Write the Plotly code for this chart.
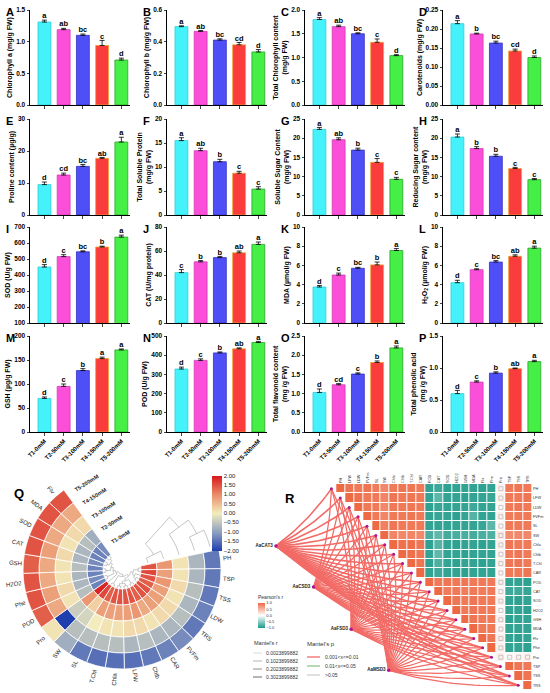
import numpy as np
import plotly.graph_objects as go

W, H = 550, 693
FONT = "Liberation Sans, Arial, sans-serif"

treatments = ["T1-0mM", "T2-50mM", "T3-100mM", "T4-150mM", "T5-200mM"]
bar_colors = ["#45f2fb", "#fb4fd9", "#4f4ff7", "#fb3c3c", "#45ef45"]
edge_colors = ["#2ccfd8", "#d23bb4", "#3232c4", "#f0a030", "#2aa52a"]

# ---- bar panels A-P : mean, error, letters ----
chla_mean = [1.31, 1.19, 1.10, 0.94, 0.71]
chla_err = [0.03, 0.02, 0.02, 0.08, 0.03]
chla_sig = ["a", "ab", "bc", "c", "d"]

chlb_mean = [0.495, 0.465, 0.41, 0.38, 0.335]
chlb_err = [0.005, 0.005, 0.008, 0.015, 0.015]
chlb_sig = ["a", "ab", "bc", "cd", "d"]

tchl_mean = [1.80, 1.65, 1.50, 1.32, 1.04]
tchl_err = [0.04, 0.03, 0.02, 0.07, 0.02]
tchl_sig = ["a", "ab", "bc", "c", "d"]

car_mean = [0.214, 0.187, 0.163, 0.142, 0.125]
car_err = [0.008, 0.002, 0.005, 0.005, 0.004]
car_sig = ["a", "b", "bc", "cd", "d"]

pro_mean = [9.5, 12.5, 15.2, 17.7, 22.8]
pro_err = [0.8, 0.6, 0.6, 0.3, 1.5]
pro_sig = ["d", "cd", "bc", "ab", "a"]

tsp_mean = [15.5, 13.4, 11.1, 8.7, 5.4]
tsp_err = [0.6, 0.5, 0.5, 0.4, 0.5]
tsp_sig = ["a", "ab", "b", "c", "c"]

tss_mean = [22.3, 19.6, 16.9, 13.7, 9.3]
tss_err = [0.5, 0.5, 0.5, 1.0, 0.5]
tss_sig = ["a", "ab", "b", "c", "c"]

trs_mean = [20.3, 17.3, 15.3, 12.1, 9.2]
trs_err = [0.8, 0.5, 0.5, 0.3, 0.3]
trs_sig = ["a", "b", "b", "c", "c"]

sod_mean = [450, 515, 545, 575, 637]
sod_err = [15, 12, 6, 5, 12]
sod_sig = ["d", "c", "bc", "b", "a"]

cat_mean = [42, 51, 54.5, 58.5, 65.5]
cat_err = [2.5, 1.0, 1.0, 1.5, 2.0]
cat_sig = ["c", "b", "b", "ab", "a"]

mda_mean = [3.75, 5.0, 5.7, 6.05, 7.55]
mda_err = [0.15, 0.2, 0.1, 0.3, 0.2]
mda_sig = ["d", "c", "bc", "b", "a"]

h2o2_mean = [4.2, 5.55, 6.35, 6.95, 7.8]
h2o2_err = [0.25, 0.1, 0.15, 0.15, 0.2]
h2o2_sig = ["d", "c", "bc", "ab", "a"]

gsh_mean = [70, 95, 128, 153, 171]
gsh_err = [3, 5, 4, 3, 2]
gsh_sig = ["d", "c", "b", "a", "a"]

pod_mean = [328, 373, 412, 433, 466]
pod_err = [10, 8, 5, 5, 6]
pod_sig = ["d", "c", "b", "ab", "a"]

flv_mean = [1.03, 1.23, 1.51, 1.81, 2.19]
flv_err = [0.09, 0.03, 0.03, 0.04, 0.05]
flv_sig = ["d", "cd", "c", "b", "a"]

phe_mean = [0.60, 0.78, 0.92, 0.99, 1.10]
phe_err = [0.05, 0.02, 0.02, 0.01, 0.02]
phe_sig = ["d", "c", "b", "ab", "a"]

# ---- Q: circular heatmap (z-scores), rings T1 (inner) .. T5 (outer) ----
q_vars = ["PH", "TSP", "TSS", "LDW", "TRS", "FVFm", "CAR", "Chlb", "LFW", "Chla", "T.Chl",
          "SL", "SW", "Pro", "POD", "Phe", "H2O2", "GSH", "CAT", "SOD", "MDA", "Flv"]
q_T1 = [1.5, 1.6, 1.5, 1.4, 1.5, 1.5, 1.4, 1.5, 1.5, 1.5, 1.5, 1.4, 1.6, 1.9,
        -1.3, -1.2, -1.3, -1.3, -1.2, -1.3, -1.3, -1.2]
q_T2 = [0.9, 0.8, 0.9, 0.8, 0.8, 0.8, 0.7, 0.9, 0.8, 0.8, 0.8, 0.8, 0.3, 0.9,
        -0.6, -0.7, -0.7, -0.6, -0.7, -0.7, -0.6, -0.8]
q_T3 = [0.1, 0.1, 0.2, 0.1, 0.2, 0.2, 0.1, 0.2, 0.2, 0.1, 0.1, 0.0, -0.3, -0.4,
        0.1, 0.2, 0.1, 0.1, 0.2, 0.1, 0.2, 0.2]
q_T4 = [-0.7, -0.7, -0.6, -0.7, -0.6, -0.7, -0.7, -0.6, -0.7, -0.6, -0.6, -0.6, -0.6, -2.0,
        0.7, 0.8, 0.7, 0.7, 0.8, 0.7, 0.7, 0.7]
q_T5 = [-1.4, -1.4, -1.4, -1.3, -1.4, -1.2, -1.3, -1.4, -1.5, -1.5, -1.5, -1.4, -0.8, 0.1,
        1.4, 1.5, 1.5, 1.4, 1.5, 1.5, 1.5, 1.5]
q_ticks = [-2, -1.5, -1, -0.5, 0, 0.5, 1, 1.5, 2]
q_scale = [[0, "#1f3fae"], [0.25, "#8d9fbf"], [0.5, "#f3ecbd"], [0.75, "#ea8d68"], [1, "#d7191c"]]

# dendrograms (index trees)
groupA = ((((0, 1), (2, (3, 4))), ((5, 6), ((7, 8), (9, 10)))), (11, 12))
groupB = (13, ((14, 15), ((16, 17), ((18, 19), (20, 21)))))
var_tree = (groupA, groupB)
trt_tree = ((0, 1), (2, (3, 4)))

# ---- R: Pearson correlation (upper triangle rows) + Mantel links ----
r_vars = ["PH", "LFW", "LDW", "FVFm", "SL", "SW", "Chla", "Chlb", "T.Chl", "CAR", "POD", "CAT",
          "SOD", "H2O2", "GSH", "MDA", "Flv", "Phe", "Pro", "TSP", "TSS", "TRS"]
r_rows = [
    [1, .92, .9, .93, .88, .8, .9, .92, .91, .9, -.9, -.85, -.92, -.9, -.91, -.9, -.92, -.9, .08, .9, .92, .9],
    [1, .95, .9, .9, .82, .92, .9, .92, .9, -.9, -.72, -.9, -.9, -.92, -.9, -.9, -.88, .1, .9, .9, .92],
    [1, .9, .9, .8, .9, .9, .91, .9, -.92, -.88, -.9, -.9, -.9, -.85, -.9, -.9, .05, .9, .92, .9],
    [1, .9, .82, .9, .9, .92, .9, -.9, -.88, -.9, -.92, -.9, -.75, -.9, -.9, .1, .88, .9, .9],
    [1, .85, .92, .9, .9, .9, -.9, -.9, -.9, -.9, -.9, -.9, -.88, -.72, .06, .9, .9, .9],
    [1, .82, .8, .82, .8, -.8, -.7, -.82, -.8, -.8, -.82, -.8, -.78, .15, .78, .8, .8],
    [1, .95, .97, .92, -.92, -.75, -.9, -.92, -.9, -.9, -.92, -.9, .1, .92, .9, .9],
    [1, .96, .92, -.9, -.7, -.9, -.9, -.92, -.9, -.9, -.9, .08, .9, .92, .9],
    [1, .93, -.92, -.78, -.9, -.92, -.9, -.9, -.92, -.9, .1, .92, .92, .9],
    [1, -.9, -.85, -.9, -.9, -.92, -.9, -.9, -.9, .06, .9, .9, .92],
    [1, .9, .92, .9, .92, .9, .9, .9, .1, -.9, -.9, -.92],
    [1, .88, .9, .88, .9, .88, .9, .08, -.85, -.85, -.88],
    [1, .92, .9, .92, .9, .9, .1, -.9, -.92, -.9],
    [1, .9, .92, .9, .9, .05, -.9, -.9, -.92],
    [1, .92, .9, .9, .1, -.92, -.9, -.9],
    [1, .9, .9, .08, -.9, -.9, -.9],
    [1, .92, .12, -.9, -.92, -.9],
    [1, .1, -.9, -.9, -.92],
    [.1, .05, .08, .1],
    [1, .92, .9],
    [1, .93],
    [1],
]
pearson_scale = [[0, "#1c9a88"], [0.5, "#ffffff"], [1, "#ee6a45"]]
genes = ["AaCAT3", "AaCSD3", "AaFSD3", "AaMSD3"]
mantel_r = [0.22, 0.15, 0.15, 0.15]
mantel_r_legend = ["0.0023899882", "0.1023899882", "0.2023899882", "0.3023899882"]
mantel_r_steps = [0.0, 0.1, 0.2, 0.3]
mantel_p_legend = ["0.001<x<=0.01", "0.01<x<=0.05", ">0.05"]
mantel_p_colors = ["#f26b66", "#8cc68c", "#cfcfcf"]


def px2x(x):
    return x / W


def px2y(y):
    return 1 - y / H


def r_width(r):
    return 0.5 + 5 * r


fig = go.Figure()
annotations = []
shapes = []

panels = [
    ("A", chla_mean, chla_err, chla_sig, "Chlorophyll a (mg/g FW)", [0, 1.5], 0.5, ".1f"),
    ("B", chlb_mean, chlb_err, chlb_sig, "Chlorophyll b (mg/g FW)", [0, 0.6], 0.2, ".1f"),
    ("C", tchl_mean, tchl_err, tchl_sig, "Total Chlorophyll content<br>(mg/g FW)", [0, 2.0], 0.5, ".1f"),
    ("D", car_mean, car_err, car_sig, "Carotenoids (mg/g FW)", [0, 0.25], 0.05, ".2f"),
    ("E", pro_mean, pro_err, pro_sig, "Proline content (µg/g)", [0, 30], 10, "d"),
    ("F", tsp_mean, tsp_err, tsp_sig, "Total Soluble Protein<br>(mg/g FW)", [0, 20], 5, "d"),
    ("G", tss_mean, tss_err, tss_sig, "Soluble Sugar Content<br>(mg/g FW)", [0, 25], 5, "d"),
    ("H", trs_mean, trs_err, trs_sig, "Reducing Sugar content<br>(mg/g FW)", [0, 25], 5, "d"),
    ("I", sod_mean, sod_err, sod_sig, "SOD (U/g FW)", [100, 700], 100, "d"),
    ("J", cat_mean, cat_err, cat_sig, "CAT (U/mg protein)", [0, 80], 20, "d"),
    ("K", mda_mean, mda_err, mda_sig, "MDA (µmol/g FW)", [0, 10], 2, "d"),
    ("L", h2o2_mean, h2o2_err, h2o2_sig, "H<sub>2</sub>O<sub>2</sub> (µmol/g FW)", [0, 10], 2, "d"),
    ("M", gsh_mean, gsh_err, gsh_sig, "GSH (µg/g FW)", [0, 200], 50, "d"),
    ("N", pod_mean, pod_err, pod_sig, "POD (U/g FW)", [0, 500], 100, "d"),
    ("O", flv_mean, flv_err, flv_sig, "Total flavonoid content<br>(mg /g FW)", [0, 2.5], 0.5, ".1f"),
    ("P", phe_mean, phe_err, phe_sig, "Total phenolic acid<br>(mg /g FW)", [0, 1.5], 0.5, ".1f"),
]
col_left = [30, 167, 305, 443]
row_span = [(10, 105), (119, 215), (227, 323), (336, 432)]
PW = 100

for i, (tag, mean, err, sig, title, yr, dt, fmt) in enumerate(panels):
    row, col = divmod(i, 4)
    n = i + 1
    xa, ya = "x%d" % n, "y%d" % n
    top, bot = row_span[row]
    left = col_left[col]
    fig.add_trace(go.Bar(
        x=treatments, y=mean, xaxis=xa, yaxis=ya, showlegend=False,
        marker=dict(color=bar_colors, line=dict(color=edge_colors, width=0.8)),
        error_y=dict(type="data", array=err, arrayminus=[0] * 5, symmetric=False,
                     color="black", thickness=0.8, width=2.5)))
    fig.add_trace(go.Scatter(
        x=treatments, y=[m + e for m, e in zip(mean, err)], xaxis=xa, yaxis=ya,
        mode="text", text=sig, textposition="top center", showlegend=False, cliponaxis=False,
        textfont=dict(size=7.5, color="black", family=FONT, weight="bold")))
    fig.update_layout(**{
        "xaxis%d" % n: dict(domain=[px2x(left), px2x(left + PW)], anchor=ya,
                            range=[-0.75, 4.45], showline=True, linecolor="black", linewidth=1,
                            ticks="outside", ticklen=2.5, tickwidth=0.8,
                            showticklabels=(row == 3), tickangle=-45,
                            tickfont=dict(size=6, family=FONT, weight="bold", color="black")),
        "yaxis%d" % n: dict(domain=[px2y(bot), px2y(top)], anchor=xa, range=yr, dtick=dt,
                            tick0=yr[0], tickformat=fmt, showline=True, linecolor="black",
                            linewidth=1, ticks="outside", ticklen=2.5, tickwidth=0.8,
                            showgrid=False, zeroline=False,
                            tickfont=dict(size=6.5, family=FONT, weight="bold", color="black"),
                            title=dict(text=title, standoff=2,
                                       font=dict(size=7, family=FONT, weight="bold", color="black"))),
    })
    annotations.append(dict(text=tag, x=px2x(left - 26), y=px2y(top - 6), xref="paper",
                            yref="paper", xanchor="left", yanchor="top", showarrow=False,
                            font=dict(size=11, family=FONT, weight="bold", color="black")))

# ---- Q circular heatmap ----
QCX, QCY, QR = 122, 570, 99
HOLE = 19
START = 12
SPAN = 246
nq = len(q_vars)
sw = SPAN / nq
r_low = -5 * HOLE / (QR - HOLE)
theta_c = [(k + 0.5) * sw for k in range(nq)]
for ring, vals in enumerate([q_T1, q_T2, q_T3, q_T4, q_T5]):
    fig.add_trace(go.Barpolar(
        r=[1] * nq, base=[ring] * nq, theta=theta_c, width=[sw] * nq, subplot="polar",
        showlegend=False,
        marker=dict(color=vals, colorscale=q_scale, cmin=-2, cmax=2,
                    line=dict(color="white", width=0.8), showscale=(ring == 0),
                    colorbar=dict(x=px2x(212), xanchor="left", y=px2y(513), yanchor="middle",
                                  len=75 / H, thickness=10, outlinewidth=0, ticks="",
                                  xpad=0, ypad=0, tickvals=q_ticks, tickformat=".2f",
                                  tickfont=dict(size=6, family=FONT, color="#222")))))

# variable dendrogram in the hole, treatment dendrogram in the gap
seg_r, seg_t = [], []


def var_node(node):
    if isinstance(node, int):
        return theta_c[node], -0.03
    t1, h1 = var_node(node[0])
    t2, h2 = var_node(node[1])
    h = min(h1, h2) - 0.15
    seg_r.extend([h1, h, None, h2, h, None])
    seg_t.extend([t1, t1, None, t2, t2, None])
    ts = np.linspace(t1, t2, 12)
    seg_r.extend([h] * 12 + [None])
    seg_t.extend(list(ts) + [None])
    return (t1 + t2) / 2, h


def trt_node(node):
    if isinstance(node, int):
        return node + 0.5, -3.0
    r1, t1 = trt_node(node[0])
    r2, t2 = trt_node(node[1])
    t = min(t1, t2) - 11
    for rr, tt in ((r1, t1), (r2, t2)):
        ts = np.linspace(tt, t, 8)
        seg_r.extend([rr] * 8 + [None])
        seg_t.extend(list(ts) + [None])
    seg_r.extend([r1, r2, None])
    seg_t.extend([t, t, None])
    return (r1 + r2) / 2, t


var_node(var_tree)
trt_node(trt_tree)
fig.add_trace(go.Scatterpolar(r=seg_r, theta=seg_t, mode="lines", subplot="polar",
                              showlegend=False, hoverinfo="skip",
                              line=dict(color="#aaaaaa", width=0.7)))

for k, name in enumerate(q_vars):
    a = START - theta_c[k]
    ar = np.radians(a)
    rr = QR + 3 + len(name) * 1.7
    ang = -a if np.cos(ar) >= 0 else 180 - a
    annotations.append(dict(text=name, x=px2x(QCX + rr * np.cos(ar)), y=px2y(QCY - rr * np.sin(ar)),
                            xref="paper", yref="paper", showarrow=False, textangle=ang,
                            xanchor="center", yanchor="middle",
                            font=dict(size=6, family=FONT, color="#222")))

end_angle = START - SPAN + 360 - 4
for i, name in enumerate(treatments):
    rr = HOLE + (i + 0.5) * (QR - HOLE) / 5 + 2
    a0 = np.radians(end_angle)
    sx, sy = QCX + rr * np.cos(a0), QCY - rr * np.sin(a0)
    d = np.radians(end_angle - 90)
    cx, cy = sx + 16 * np.cos(d), sy - 16 * np.sin(d)
    annotations.append(dict(text=name, x=px2x(cx), y=px2y(cy), xref="paper", yref="paper",
                            showarrow=False, textangle=-(end_angle - 90), xanchor="center",
                            yanchor="middle", font=dict(size=5.5, family=FONT, weight="bold",
                                                        color="#222")))

# ---- R heatmap + Mantel network ----
nr = len(r_vars)
r_z = [[None] * nr for _ in range(nr)]
small_x, small_y = [], []
for i, row in enumerate(r_rows):
    for j, v in enumerate(row):
        r_z[i][i + j] = v
        if abs(v) < 0.3:
            small_x.append(i + j)
            small_y.append(i)
fig.add_trace(go.Heatmap(
    z=r_z, x=list(range(nr)), y=list(range(nr)), xaxis="x17", yaxis="y17", zmin=-1, zmax=1,
    colorscale=pearson_scale, xgap=1, ygap=1, hoverongaps=False,
    colorbar=dict(x=px2x(258), xanchor="left", y=px2y(610), yanchor="middle", len=36 / H,
                  thickness=7, outlinewidth=0, ticks="", xpad=0, ypad=0,
                  tickvals=[-1, -0.5, 0, 0.5, 1],
                  tickformat=".1f", tickfont=dict(size=4, family=FONT, color="#333"),
                  title=dict(text="Pearson's r", side="top",
                             font=dict(size=5, family=FONT, color="#333")))))
fig.add_trace(go.Scatter(x=small_x, y=small_y, mode="markers", xaxis="x17", yaxis="y17",
                         showlegend=False, hoverinfo="skip",
                         marker=dict(symbol="square-open", size=4, color="#aaaaaa",
                                     line=dict(width=0.6))))

gene_xy = [(-7.28, 6.12), (-3.06, 10.5), (1.17, 15.0), (5.39, 19.4)]
dot_x = [k - 1.05 for k in range(nr)]
dot_y = list(range(nr))


def bezier(p0, p2, bend=0.08, n=25):
    p0 = np.array(p0, float)
    p2 = np.array(p2, float)
    d = p2 - p0
    ctrl = (p0 + p2) / 2 + bend * np.array([-d[1], d[0]])
    t = np.linspace(0, 1, n)[:, None]
    pts = (1 - t) ** 2 * p0 + 2 * (1 - t) * t * ctrl + t ** 2 * p2
    return list(pts[:, 0]), list(pts[:, 1])


for g, (gx, gy) in enumerate(gene_xy):
    lx, ly = [], []
    for k in range(nr):
        bx, by = bezier((gx, gy), (dot_x[k], dot_y[k]))
        lx += bx + [None]
        ly += by + [None]
    fig.add_trace(go.Scatter(x=lx, y=ly, mode="lines", xaxis="x17", yaxis="y17",
                             showlegend=False, cliponaxis=False, hoverinfo="skip",
                             line=dict(color=mantel_p_colors[0], width=r_width(mantel_r[g]))))
fig.add_trace(go.Scatter(x=dot_x, y=dot_y, mode="markers", xaxis="x17", yaxis="y17",
                         showlegend=False, cliponaxis=False,
                         marker=dict(size=3, color="#b0178f")))
fig.add_trace(go.Scatter(x=[p[0] for p in gene_xy], y=[p[1] for p in gene_xy],
                         mode="markers+text", text=genes, textposition="middle left",
                         xaxis="x17", yaxis="y17", showlegend=False, cliponaxis=False,
                         marker=dict(size=3.5, color="#b0178f"),
                         textfont=dict(size=4.5, family=FONT, weight="bold", color="#222")))

# hand-drawn legends for Mantel's r / Mantel's p
small_font = dict(size=5, family=FONT, color="#333")
annotations.append(dict(text="Mantel's r", x=px2x(252), y=px2y(643), xref="paper", yref="paper",
                        xanchor="left", yanchor="middle", showarrow=False,
                        font=dict(size=5.5, family=FONT, color="#333")))
for i, (lab, rv) in enumerate(zip(mantel_r_legend, mantel_r_steps)):
    yy = 653 + 8 * i
    shapes.append(dict(type="line", xref="paper", yref="paper", x0=px2x(253), x1=px2x(262),
                       y0=px2y(yy), y1=px2y(yy), line=dict(color="#b5b5b5", width=r_width(rv))))
    annotations.append(dict(text=lab, x=px2x(264), y=px2y(yy), xref="paper", yref="paper",
                            xanchor="left", yanchor="middle", showarrow=False, font=small_font))
annotations.append(dict(text="Mantel's p", x=px2x(305), y=px2y(644), xref="paper", yref="paper",
                        xanchor="left", yanchor="middle", showarrow=False,
                        font=dict(size=6, family=FONT, color="#333")))
for i, (lab, c) in enumerate(zip(mantel_p_legend, mantel_p_colors)):
    yy = 657 + 9 * i
    shapes.append(dict(type="line", xref="paper", yref="paper", x0=px2x(307), x1=px2x(320),
                       y0=px2y(yy), y1=px2y(yy), line=dict(color=c, width=1.3)))
    annotations.append(dict(text=lab, x=px2x(323), y=px2y(yy), xref="paper", yref="paper",
                            xanchor="left", yanchor="middle", showarrow=False, font=small_font))

annotations.append(dict(text="Q", x=px2x(12), y=px2y(484), xref="paper", yref="paper",
                        xanchor="left", yanchor="top", showarrow=False,
                        font=dict(size=13, family=FONT, weight="bold", color="black")))
annotations.append(dict(text="R", x=px2x(283), y=px2y(489), xref="paper", yref="paper",
                        xanchor="left", yanchor="top", showarrow=False,
                        font=dict(size=13, family=FONT, weight="bold", color="black")))

fig.update_layout(
    width=W, height=H, margin=dict(l=0, r=0, t=0, b=0, autoexpand=False),
    paper_bgcolor="white", plot_bgcolor="white", bargap=0.33, showlegend=False,
    font=dict(family=FONT),
    polar=dict(domain=dict(x=[px2x(QCX - QR), px2x(QCX + QR)], y=[px2y(QCY + QR), px2y(QCY - QR)]),
               bgcolor="rgba(0,0,0,0)", hole=0,
               radialaxis=dict(range=[r_low, 5], visible=False),
               angularaxis=dict(rotation=START, direction="clockwise", visible=False)),
    xaxis17=dict(domain=[px2x(274), px2x(532)], anchor="y17", range=[-7.5, 21.5], side="top",
                 tickvals=list(range(nr)), ticktext=r_vars, tickangle=-90, showgrid=False,
                 zeroline=False, showline=False, ticks="",
                 tickfont=dict(size=3.8, family=FONT, color="#333")),
    yaxis17=dict(domain=[px2y(690), px2y(484)], anchor="x17", range=[21.5, -0.5], side="right",
                 tickvals=list(range(nr)), ticktext=r_vars, showgrid=False, zeroline=False,
                 showline=False, ticks="", tickfont=dict(size=3.8, family=FONT, color="#333")),
    annotations=annotations,
    shapes=shapes,
)

# page body has a default 8px margin; drop it so the figure sits at the window corner
fig.write_html("out.html", config={"displayModeBar": False},
               post_script="document.body.style.margin='0px';")
